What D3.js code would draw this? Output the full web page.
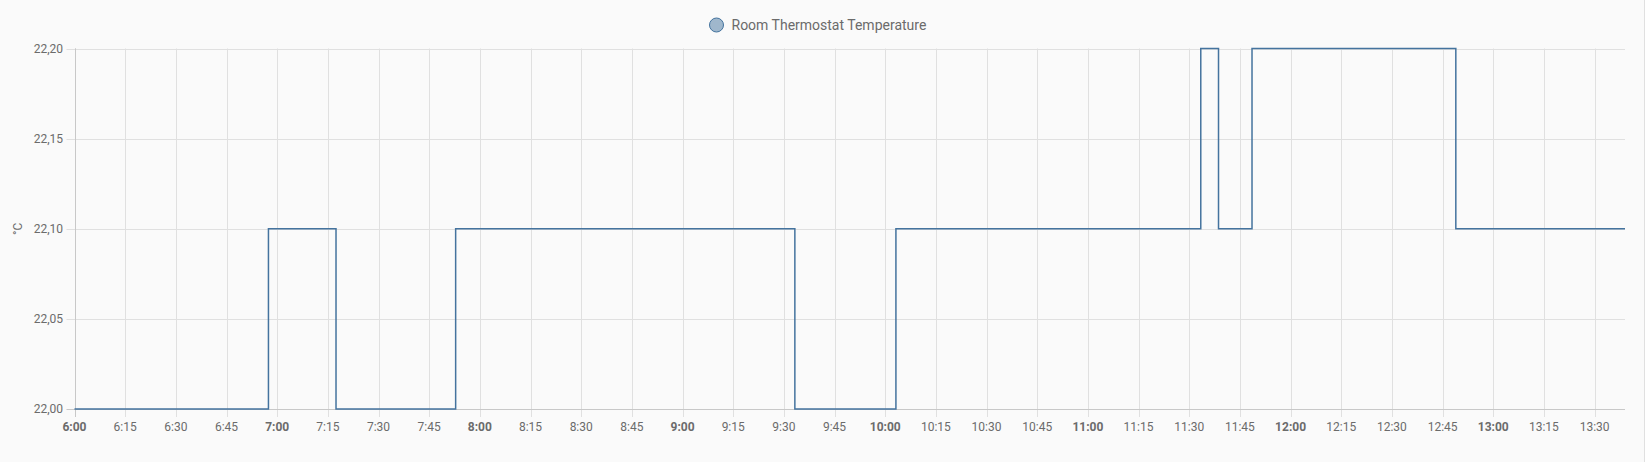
<!DOCTYPE html>
<html>
<head>
<meta charset="utf-8">
<script src="https://cdn.jsdelivr.net/npm/d3@7"></script>
<style>
  html, body { margin: 0; padding: 0; background: #fafafa; }
  svg { display: block; font-family: Roboto, "Noto Sans", sans-serif; }
</style>
</head>
<body>
<svg id="chart" width="1645" height="462"></svg>
<script>
// ---- data ----
const seriesName = "Room Thermostat Temperature";
const unitLabel = "°C";
const changeTimes = ["06:00:00", "06:57:25", "07:17:25", "07:52:50", "09:33:15", "10:03:10", "11:33:25", "11:38:40", "11:48:35", "12:48:55", "13:39:00"];
const changeValues = [22.00, 22.10, 22.00, 22.10, 22.00, 22.10, 22.20, 22.10, 22.20, 22.10, 22.10];
const yTicks = [22.00, 22.05, 22.10, 22.15, 22.20];
const domainStart = "06:00:00";
const domainEnd = "13:39:00";

// ---- layout ----
const W = 1645, H = 462;
const margin = { left: 74.5, right: 20, top: 48.5, bottom: 53 };
const lineColor = "#44739e";
const textColor = "#6b6b6b";
const gridColor = "#e0e0e0";
const axisColor = "#c8c8c8";

const parse = s => { const [h, m, sec] = s.split(":").map(Number); return new Date(2024, 0, 1, h, m, sec || 0); };
const data = changeTimes.map((t, i) => ({ t: parse(t), v: changeValues[i] }));

const svg = d3.select("#chart");
svg.append("rect").attr("width", W).attr("height", H).attr("fill", "#fafafa");

const x = d3.scaleTime().domain([parse(domainStart), parse(domainEnd)]).range([margin.left, W - margin.right]);
const y = d3.scaleLinear().domain([22.0, 22.2]).range([H - margin.bottom, margin.top]);

const xTicks = x.ticks(d3.timeMinute.every(15));

// vertical grid + tick marks
const g = svg.append("g");
g.selectAll("line.vg").data(xTicks).join("line")
  .attr("x1", d => Math.round(x(d)) + 0.5).attr("x2", d => Math.round(x(d)) + 0.5)
  .attr("y1", margin.top).attr("y2", H - margin.bottom + 8)
  .attr("stroke", d => +d === +x.domain()[0] ? axisColor : gridColor)
  .attr("stroke-width", 1);

// horizontal grid + tick marks
g.selectAll("line.hg").data(yTicks).join("line")
  .attr("x1", margin.left - 8).attr("x2", W - margin.right)
  .attr("y1", d => Math.round(y(d)) + 0.5).attr("y2", d => Math.round(y(d)) + 0.5)
  .attr("stroke", d => d === yTicks[0] ? axisColor : gridColor)
  .attr("stroke-width", 1);

// left axis line
g.append("line")
  .attr("x1", Math.round(margin.left) + 0.5).attr("x2", Math.round(margin.left) + 0.5)
  .attr("y1", margin.top).attr("y2", H - margin.bottom + 8)
  .attr("stroke", axisColor);

// y tick labels
const fmtY = d => d3.format(".2f")(d).replace(".", ",");
svg.append("g").selectAll("text").data(yTicks).join("text")
  .attr("x", 63).attr("y", d => y(d)).attr("dy", "0.35em")
  .attr("text-anchor", "end").attr("font-size", 12).attr("fill", textColor)
  .text(fmtY);

// x tick labels
const fmtX = d => d.getHours() + ":" + String(d.getMinutes()).padStart(2, "0");
svg.append("g").selectAll("text").data(xTicks).join("text")
  .attr("x", d => x(d)).attr("y", 430.5)
  .attr("text-anchor", "middle").attr("font-size", 12).attr("fill", textColor)
  .attr("font-weight", d => d.getMinutes() === 0 ? "bold" : "normal")
  .text(fmtX);

// y axis title
svg.append("text")
  .attr("transform", `translate(22,${(margin.top + H - margin.bottom) / 2}) rotate(-90)`)
  .attr("text-anchor", "middle").attr("font-size", 12).attr("fill", textColor)
  .text(unitLabel);

// line
const line = d3.line().x(d => x(d.t)).y(d => y(d.v)).curve(d3.curveStepAfter);
svg.append("path").datum(data)
  .attr("d", line).attr("fill", "none")
  .attr("stroke", lineColor).attr("stroke-width", 1.5)
  .attr("stroke-linejoin", "miter");

// legend
const lg = svg.append("g");
lg.append("circle").attr("cx", 716.5).attr("cy", 25).attr("r", 7)
  .attr("fill", lineColor).attr("fill-opacity", 0.5)
  .attr("stroke", lineColor).attr("stroke-width", 1);
lg.append("text").attr("x", 731.5).attr("y", 25).attr("dy", "0.35em")
  .attr("font-size", 14).attr("fill", textColor).text(seriesName);

// right border
svg.append("line").attr("x1", 1644.5).attr("x2", 1644.5).attr("y1", 0).attr("y2", H)
  .attr("stroke", "#e0e0e0").attr("stroke-width", 1);
</script>
</body>
</html>
